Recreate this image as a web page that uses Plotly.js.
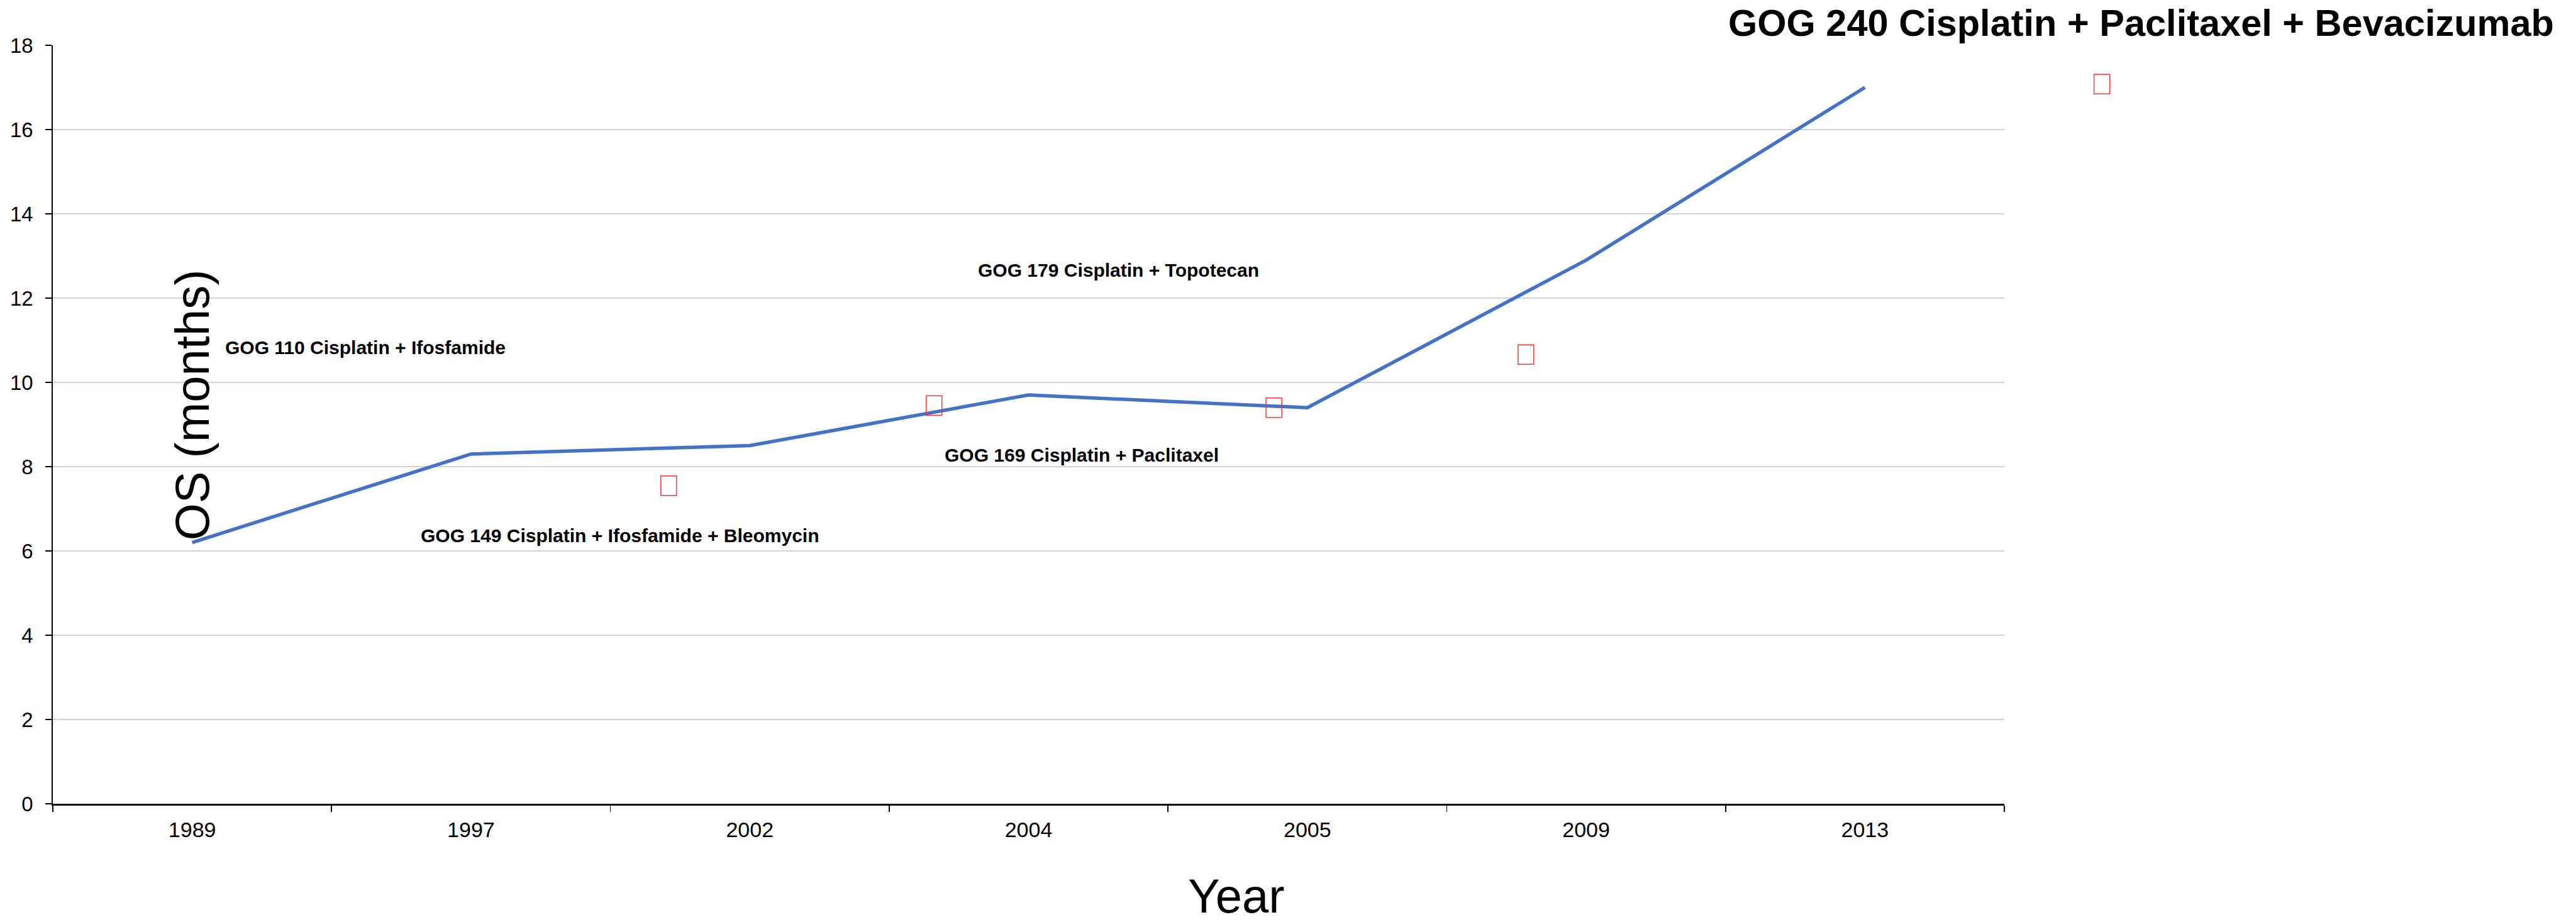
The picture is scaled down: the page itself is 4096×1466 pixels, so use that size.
<!DOCTYPE html>
<html>
<head>
<meta charset="utf-8">
<script src="https://cdn.plot.ly/plotly-3.0.1.min.js"></script>
<style>
  html, body { margin: 0; padding: 0; background: #ffffff; }
  #chart { width: 4096px; height: 1466px; }
</style>
</head>
<body>
<div id="chart"></div>
<script>
// Median overall survival of the successive GOG trials
const years = ['1989', '1997', '2002', '2004', '2005', '2009', '2013'];
const osMonths = [6.2, 8.3, 8.5, 9.7, 9.4, 12.9, 17.0];

// Trial names written over the chart
const trialNames = [
  'GOG 110 Cisplatin + Ifosfamide',
  'GOG 149 Cisplatin + Ifosfamide + Bleomycin',
  'GOG 169 Cisplatin + Paclitaxel',
  'GOG 179 Cisplatin + Topotecan',
  'GOG 240 Cisplatin + Paclitaxel + Bevacizumab'
];

// Empty symbol boxes: place along the year scale and height in months
const boxAt = [1.709, 2.661, 3.880, 4.784, 6.850];
const boxMonths = [7.55, 9.45, 9.40, 10.66, 17.08];

const FONT = 'Liberation Sans, Arial, sans-serif';

// Page and plot-area geometry (px)
const W = 4096, H = 1466;
const plotL = 84, plotR = 3187, plotT = 72, plotB = 1278;
const unitPx = (plotR - plotL) / years.length;            // width of one year slot
const xDomainEnd = (plotR - plotL) / (W - plotL);          // main axis stops before the right margin
const wideRange = [-0.5, -0.5 + (W - plotL) / unitPx];     // same scale, reaching the page edge

const traces = [
  {
    type: 'scatter',
    mode: 'lines',
    x: years,
    y: osMonths,
    line: { color: '#4472C4', width: 5.5 },
    hoverinfo: 'x+y',
    showlegend: false
  },
  {
    // carries the wide overlay axes used by the symbol boxes
    type: 'scatter',
    mode: 'markers',
    xaxis: 'x2',
    yaxis: 'y2',
    x: boxAt,
    y: boxMonths,
    marker: { size: 1, color: 'rgba(0,0,0,0)' },
    hoverinfo: 'skip',
    showlegend: false
  }
];

const shapes = boxAt.map((b, i) => ({
  type: 'rect',
  xref: 'x2', yref: 'y2',
  xsizemode: 'pixel', ysizemode: 'pixel',
  xanchor: b, yanchor: boxMonths[i],
  x0: -12.5, x1: 12.5, y0: -15.5, y1: 15.5,
  line: { color: '#FF3333', width: 1.5 },
  fillcolor: 'rgba(0,0,0,0)',
  layer: 'above'
}));

// Label placement: [position on the year scale, height in months]
const labelPlace = [
  [0.113, 10.83],
  [0.815, 6.37],
  [2.694, 8.27],
  [2.813, 12.66]
];

const annotations = labelPlace.map((p, i) => ({
  text: '<b>' + trialNames[i] + '</b>',
  xref: 'x2', yref: 'y2',
  x: p[0], y: p[1],
  xanchor: 'left', yanchor: 'middle',
  showarrow: false,
  font: { family: FONT, size: 30, color: '#000000' }
}));

// Headline label above the plot, top right
annotations.push({
  text: '<b>' + trialNames[4] + '</b>',
  xref: 'paper', yref: 'paper',
  x: (2745.7 - plotL) / (W - plotL), y: (plotB - 36.2) / (plotB - plotT),
  xanchor: 'left', yanchor: 'middle',
  showarrow: false,
  font: { family: FONT, size: 59.5, color: '#000000' }
});

annotations.push({
  text: 'OS (months)',
  xref: 'paper', yref: 'paper',
  x: (306.3 - plotL) / (W - plotL), y: (plotB - 644) / (plotB - plotT),
  xanchor: 'center', yanchor: 'middle',
  textangle: -90,
  showarrow: false,
  font: { family: FONT, size: 76, color: '#000000' }
});
annotations.push({
  text: 'Year',
  xref: 'paper', yref: 'paper',
  x: (1965.8 - plotL) / (W - plotL), y: (plotB - 1424) / (plotB - plotT),
  xanchor: 'center', yanchor: 'middle',
  showarrow: false,
  font: { family: FONT, size: 76, color: '#000000' }
});

const layout = {
  width: W,
  height: H,
  margin: { l: plotL, r: 0, t: plotT, b: H - plotB, pad: 0 },
  paper_bgcolor: '#ffffff',
  plot_bgcolor: 'rgba(0,0,0,0)',
  showlegend: false,
  font: { family: FONT, color: '#000000' },
  xaxis: {
    type: 'category',
    categoryorder: 'array',
    categoryarray: years,
    domain: [0, xDomainEnd],
    range: [-0.5, years.length - 0.5],
    tickson: 'boundaries',
    ticks: 'outside',
    ticklen: 10.5,
    tickwidth: 1.6,
    tickcolor: '#000000',
    showgrid: false,
    zeroline: false,
    showline: true,
    linecolor: '#000000',
    linewidth: 2.5,
    tickfont: { family: FONT, size: 34, color: '#000000' },
    ticklabelstandoff: 10,
    fixedrange: true
  },
  yaxis: {
    range: [0, 18],
    tickmode: 'linear',
    tick0: 0,
    dtick: 2,
    ticks: 'outside',
    ticklen: 10,
    tickwidth: 1.6,
    tickcolor: '#000000',
    showgrid: true,
    gridcolor: '#CDD3DE',
    gridwidth: 2,
    zeroline: false,
    showline: true,
    linecolor: '#000000',
    linewidth: 1.8,
    tickfont: { family: FONT, size: 33, color: '#000000' },
    ticklabelstandoff: 13,
    fixedrange: true
  },
  xaxis2: {
    type: 'linear',
    domain: [0, 1],
    anchor: 'y2',
    range: wideRange,
    visible: false,
    showgrid: false,
    zeroline: false,
    fixedrange: true
  },
  yaxis2: {
    type: 'linear',
    domain: [0, 1],
    anchor: 'x2',
    range: [0, 18],
    visible: false,
    showgrid: false,
    zeroline: false,
    fixedrange: true
  },
  shapes: shapes,
  annotations: annotations
};

Plotly.newPlot('chart', traces, layout, { displayModeBar: false, staticPlot: true });
</script>
</body>
</html>
